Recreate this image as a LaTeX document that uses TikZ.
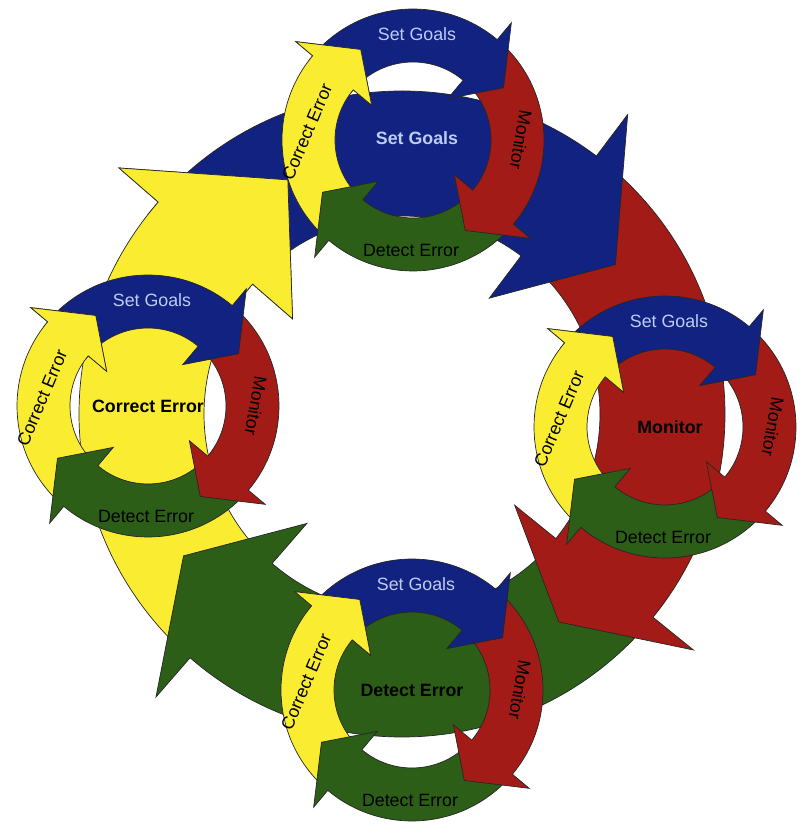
\documentclass[tikz,border=0pt]{standalone}
\usepackage{fontspec}
\setmainfont{Liberation Sans}
\usetikzlibrary{calc}
\definecolor{cblue}{RGB}{18,34,128}
\definecolor{cred}{RGB}{163,27,22}
\definecolor{cgreen}{RGB}{44,94,24}
\definecolor{cyellow}{RGB}{250,236,48}
\definecolor{ctext}{RGB}{190,205,245}
\tikzset{
  arr/.style={draw=black!85, line width=0.7pt, line join=miter, fill=#1},
  lbl/.style={font=\fontsize{17.8}{20}\selectfont, inner sep=0pt},
  blbl/.style={font=\fontsize{17.8}{20}\selectfont\bfseries, inner sep=0pt}
}
% #1 centre, #2 tail angle, #3 barb angle, #4 tip angle, #5 colour
\newcommand{\carrow}[5]{%
  \path[arr=#5, shift={(#1)}] (#2:\Ro) arc[start angle=#2, end angle=#3, radius=\Ro]
    -- (#3:\Rbo) -- (#4:\Rm) -- (#3:\Rbi) -- (#3:\Ri)
    arc[start angle=#3, end angle=#2, radius=\Ri] -- cycle;}
\newcommand{\headclip}[3]{%
  \clip[shift={(#1)}] (0,0) -- (#2:900) -- ({(#2+#3)/2}:900) -- (#3:900) -- cycle;}
\newcommand{\fourcycle}[1]{%
  \carrow{#1}{225}{140}{120}{cyellow}
  \carrow{#1}{-45}{-130}{-150}{cgreen}
  \carrow{#1}{45}{-40}{-60}{cred}
  \carrow{#1}{135}{50}{30}{cblue}
  \begin{scope}\headclip{#1}{143}{117}\carrow{#1}{225}{140}{120}{cyellow}\end{scope}
  \node[lbl, text=ctext] at ($(#1)+(4,106)$) {Set Goals};
  \node[lbl, rotate=-100] at ($(#1)+(108,0)$) {Monitor};
  \node[lbl] at ($(#1)+(-2,-110)$) {Detect Error};
  \node[lbl, rotate=67] at ($(#1)+(-106,8)$) {Correct Error};
}
\begin{document}
\begin{tikzpicture}[x=1pt,y=1pt]
  \fill[white] (0,0) rectangle (800,825);
  \useasboundingbox (0,0) rectangle (800,825);
  \coordinate (c0) at (402,411);
  \coordinate (c1) at (413,685);
  \coordinate (c2) at (148,419);
  \coordinate (c3) at (665,398);
  \coordinate (c4) at (412,135);
  % big cycle
  \def\Ri{198}\def\Ro{323}\def\Rbi{145}\def\Rbo{375}\def\Rm{260.5}
  \carrow{c0}{224}{139}{116}{cyellow}
  \carrow{c0}{-43}{-131}{-147}{cgreen}
  \carrow{c0}{48}{-39}{-53}{cred}
  \carrow{c0}{134}{53}{35}{cblue}
  \begin{scope}\headclip{c0}{142}{113}\carrow{c0}{224}{139}{116}{cyellow}\end{scope}
  % small cycles
  \def\Ri{78}\def\Ro{131}\def\Rbi{54}\def\Rbo{153}\def\Rm{104.5}
  \fourcycle{c1}
  \fourcycle{c2}
  \fourcycle{c3}
  \fourcycle{c4}
  % central labels
  \node[blbl, text=ctext] (l1) at ($(c1)+(4,2)$) {Set Goals};
  \node[blbl] (l2) at ($(c2)+(0,0)$) {Correct Error};
  \node[blbl] (l3) at ($(c3)+(5,0)$) {Monitor};
  \node[blbl] (l4) at ($(c4)+(0,0)$) {Detect Error};
\end{tikzpicture}
\end{document}
